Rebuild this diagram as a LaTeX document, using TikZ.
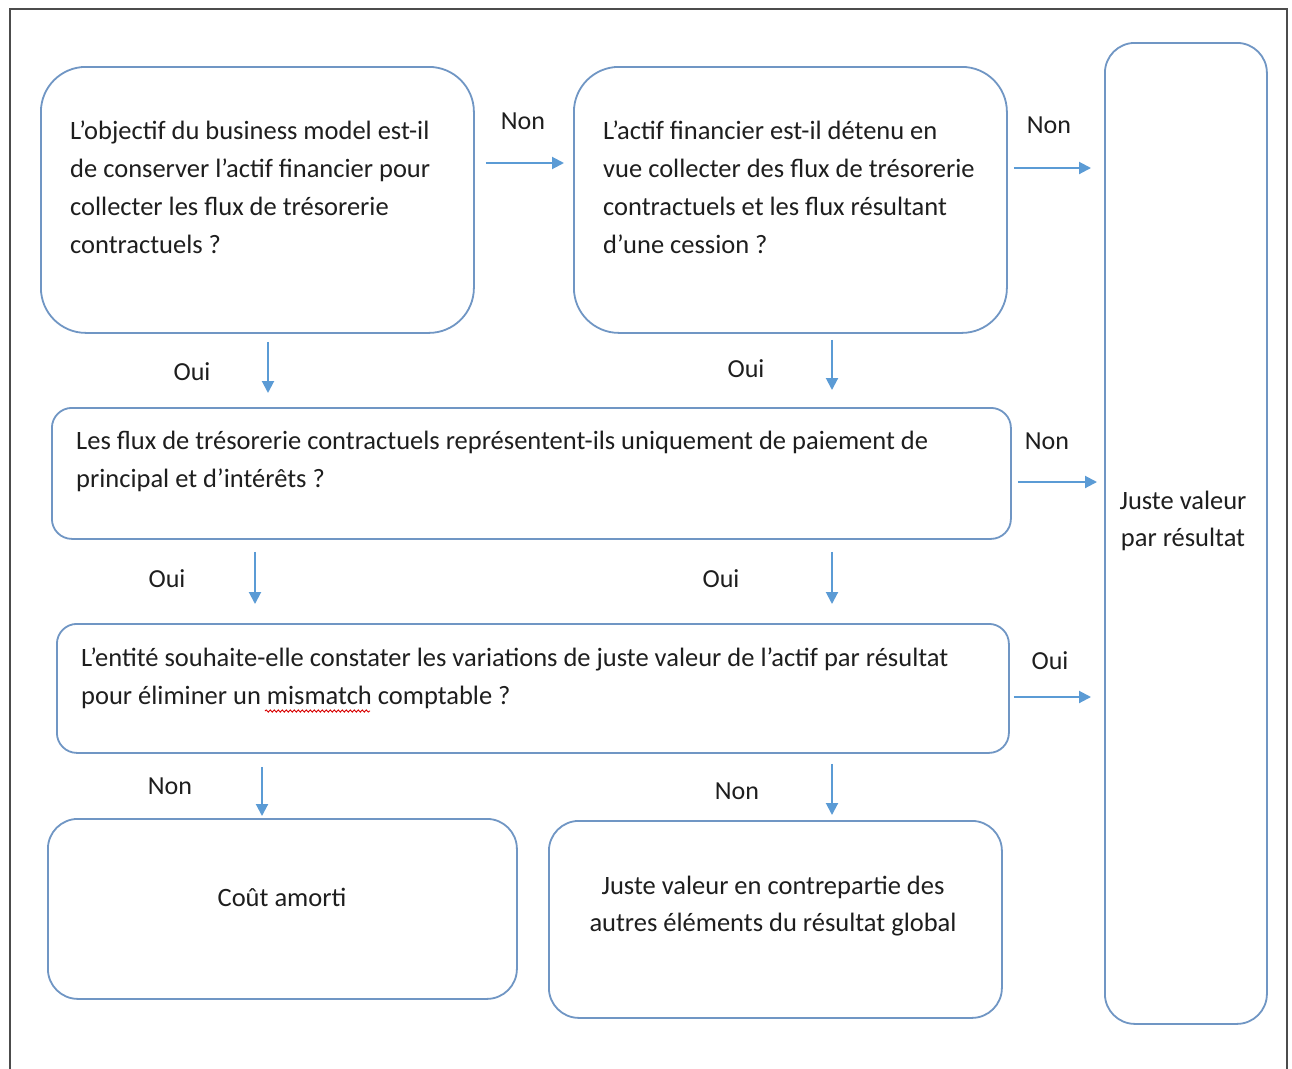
\documentclass[tikz,border=0pt]{standalone}
\usepackage{fontspec}
\setmainfont{Carlito}
\usetikzlibrary{arrows.meta,calc,decorations.pathmorphing}
\definecolor{boxc}{HTML}{7096C4}
\definecolor{arrc}{HTML}{5B9BD5}
\definecolor{txtc}{HTML}{1E1E1E}
\begin{document}
\begin{tikzpicture}[x=1pt,y=-1pt,
  box/.style={draw=boxc,line width=1.8pt,fill=white,anchor=north west,inner sep=0pt},
  txt/.style={anchor=north west,inner sep=0pt,align=left,text=txtc,font=\fontsize{26.5pt}{38pt}\selectfont},
  ctxt/.style={inner sep=0pt,align=center,text=txtc,font=\fontsize{26.5pt}{37pt}\selectfont},
  lab/.style={inner sep=0pt,text=txtc,font=\fontsize{26pt}{28pt}\selectfont},
  arr/.style={draw=arrc,line width=2pt,-{Triangle[length=12pt,width=12pt]}}]
\useasboundingbox (0,0) rectangle (1292,1068);
\fill[white] (0,0) rectangle (1292,1068);
\draw[line width=2.5pt,draw=black!70] (10,1070) -- (10,9) -- (1287,9) -- (1287,1070);
% boxes
\node[box,rounded corners=45pt,minimum width=433pt,minimum height=266pt] (b1) at (40,66) {};
\node[box,rounded corners=45pt,minimum width=433pt,minimum height=266pt] (b2) at (573,66) {};
\node[box,rounded corners=30pt,minimum width=162pt,minimum height=981pt] (jvr) at (1104,42) {};
\node[box,rounded corners=20pt,minimum width=959pt,minimum height=131pt] (b3) at (51,407) {};
\node[box,rounded corners=20pt,minimum width=952pt,minimum height=129pt] (b4) at (56,623) {};
\node[box,rounded corners=30pt,minimum width=469pt,minimum height=180pt] (b5) at (47,818) {};
\node[box,rounded corners=30pt,minimum width=453pt,minimum height=197pt] (b6) at (548,820) {};
% texts
\node[txt] (t1) at (70,121) {L’objectif du business model est-il\\de conserver l’actif financier pour\\collecter les flux de trésorerie\\contractuels ?};
\node[txt] (t2) at (603,121) {L’actif financier est-il détenu en\\vue collecter des flux de trésorerie\\contractuels et les flux résultant\\d’une cession ?};
\node[txt] (t3) at (76,431) {Les flux de trésorerie contractuels représentent-ils uniquement de paiement de\\principal et d’intérêts ?};
\node[txt] (t4) at (81,648) {L’entité souhaite-elle constater les variations de juste valeur de l’actif par résultat\\pour éliminer un mismatch comptable ?};
\node[ctxt] (t5) at (282,897) {Coût amorti};
\node[ctxt] (t6) at (773,906) {Juste valeur en contrepartie des\\autres éléments du résultat global};
\node[ctxt] (t7) at (1183,521) {Juste valeur\\par résultat};
\draw[red!85!black,line width=0.9pt,decorate,decoration={snake,amplitude=1.1pt,segment length=4pt}] (265,711) -- (370,711);
% arrows
\draw[arr] ($(b1.north east)+(11,97)$) -- ($(b2.north west)+(-9,97)$);
\draw[arr] ($(b2.north east)+(6,102)$) -- ($(jvr.north west)+(-13,126)$);
\draw[arr] ($(b3.north east)+(6,75)$) -- ($(jvr.north west)+(-7,440)$);
\draw[arr] ($(b4.north east)+(4,74)$) -- ($(jvr.north west)+(-13,655)$);
\draw[arr] ($(b1.south west)+(228,8)$) -- ($(b3.north west)+(217,-14)$);
\draw[arr] ($(b2.south west)+(259,6)$) -- ($(b3.north west)+(781,-17)$);
\draw[arr] ($(b3.south west)+(204,12)$) -- ($(b4.north west)+(199,-19)$);
\draw[arr] ($(b3.south west)+(781,12)$) -- ($(b4.north west)+(776,-19)$);
\draw[arr] ($(b4.south west)+(206,13)$) -- ($(b5.north west)+(215,-2)$);
\draw[arr] ($(b4.south west)+(776,10)$) -- ($(b6.north west)+(284,-5)$);
% labels
\node[lab] (l1) at (523,121) {Non};
\node[lab] (l2) at (1049,125) {Non};
\node[lab] (l3) at (192,372) {Oui};
\node[lab] (l4) at (746,369) {Oui};
\node[lab] (l5) at (1047,441) {Non};
\node[lab] (l6) at (167,579) {Oui};
\node[lab] (l7) at (721,579) {Oui};
\node[lab] (l8) at (1050,661) {Oui};
\node[lab] (l9) at (170,786) {Non};
\node[lab] (l10) at (737,791) {Non};
\end{tikzpicture}
\end{document}
